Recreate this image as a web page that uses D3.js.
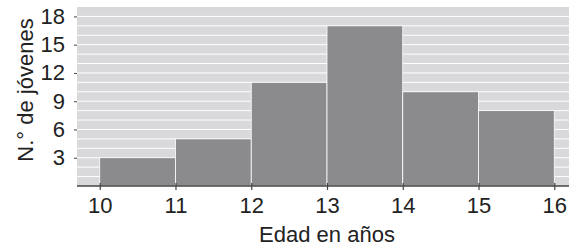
<!DOCTYPE html>
<html>
<head>
<meta charset="utf-8">
<script src="https://cdn.jsdelivr.net/npm/d3@7"></script>
<style>
  body { margin: 0; background: #fff; }
  text { font-family: "Liberation Sans", Arial, sans-serif; fill: #222; }
</style>
</head>
<body>
<svg width="569" height="247"></svg>
<script>
// histogram bins (edad) and counts
var binStart = [10, 11, 12, 13, 14, 15];
var binEnd   = [11, 12, 13, 14, 15, 16];
var counts   = [3, 5, 11, 17, 10, 8];
var xTicks = [10, 11, 12, 13, 14, 15, 16];
var yTicks = [3, 6, 9, 12, 15, 18];

var svg = d3.select("svg");

// panel spans slightly past the right edge, like the original
var x = d3.scaleLinear().domain([9.7, 16.3]).range([77, 577]);
var y = d3.scaleLinear().domain([0, 19]).range([186, 7]);

svg.append("rect")
    .attr("x", x(9.7)).attr("y", y(19))
    .attr("width", x(16.3) - x(9.7)).attr("height", y(0) - y(19))
    .style("fill", "#d9d9db");

// white grid at every unit
svg.selectAll("line.grid").data(d3.range(1, 19))
  .enter().append("line")
    .attr("class", "grid")
    .attr("x1", x(9.7)).attr("x2", x(16.3))
    .attr("y1", function(d) { return y(d); })
    .attr("y2", function(d) { return y(d); })
    .style("stroke", "#fff")
    .style("stroke-width", 1);

svg.selectAll("rect.bar").data(counts)
  .enter().append("rect")
    .attr("class", "bar")
    .attr("x", function(d, i) { return x(binStart[i]); })
    .attr("y", function(d) { return y(d); })
    .attr("width", function(d, i) { return x(binEnd[i]) - x(binStart[i]); })
    .attr("height", function(d) { return y(0) - y(d); })
    .style("fill", "#8b8b8e")
    .style("stroke", "#fff")
    .style("stroke-width", 0.8);

// x axis
var xAxis = svg.append("g")
    .attr("transform", "translate(0," + y(0) + ")")
    .call(d3.axisBottom(x).tickValues(xTicks).tickFormat(d3.format("d")).tickSizeInner(4).tickSizeOuter(0).tickPadding(7));
xAxis.select(".domain").remove();
xAxis.append("line")
    .attr("x1", x(9.7)).attr("x2", x(16.3))
    .style("stroke", "#444").style("stroke-width", 1.6);
xAxis.selectAll(".tick line").attr("y1", -3).style("stroke", "#444").style("stroke-width", 1.2);
xAxis.selectAll("text").style("font-size", "22px").style("fill", "#222")
    .style("font-family", "'Liberation Sans', Arial, sans-serif");

// y axis
var yAxis = svg.append("g")
    .attr("transform", "translate(" + x(9.7) + ",0)")
    .call(d3.axisLeft(y).tickValues(yTicks).tickSizeInner(3).tickSizeOuter(0).tickPadding(9));
yAxis.select(".domain").remove();
yAxis.selectAll(".tick line").style("stroke", "#444");
yAxis.selectAll("text").style("font-size", "22px").style("fill", "#222")
    .style("font-family", "'Liberation Sans', Arial, sans-serif");

svg.append("text")
    .attr("x", (x(9.7) + x(16.3)) / 2).attr("y", 242)
    .attr("text-anchor", "middle")
    .style("font-size", "22px")
    .text("Edad en años");

svg.append("text")
    .attr("transform", "translate(33,90) rotate(-90)")
    .attr("text-anchor", "middle")
    .style("font-size", "22px")
    .text("N.° de jóvenes");
</script>
</body>
</html>
